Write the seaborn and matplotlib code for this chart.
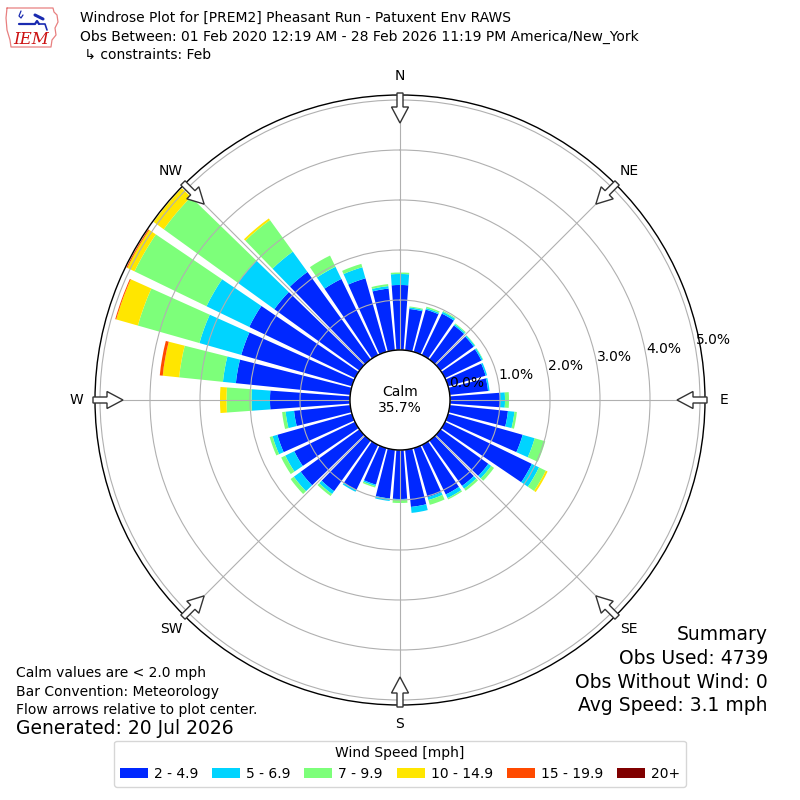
import numpy as np
import matplotlib
matplotlib.use("Agg")
import matplotlib.pyplot as plt
import matplotlib.patches as mpatches
import matplotlib.transforms as mtransforms
import seaborn as sns

sns.set_style("white")
plt.rcParams['font.family'] = ['DejaVu Sans']
plt.rcParams['text.color'] = 'black'

# wind direction bins (deg, meteorological convention)
dirs = list(range(0, 360, 10))

# percent of obs per direction and speed bin
spd_2_5 = [1.30, 0.83, 0.88, 0.92, 0.84, 0.82, 0.81, 0.78, 0.77, 1.00,
           1.17, 1.55, 1.93, 1.18, 1.12, 1.10, 1.02, 1.15, 0.98, 0.98,
           0.76, 1.00, 1.25, 1.45, 1.35, 1.55, 1.13, 1.60, 2.30, 2.30,
           2.35, 2.10, 2.16, 1.69, 1.53, 1.24]
spd_5_7 = [0.22, 0.03, 0.03, 0.04, 0.03, 0.03, 0.03, 0.03, 0.03, 0.10,
           0.13, 0.25, 0.16, 0.07, 0.07, 0.08, 0.06, 0.12, 0.02, 0.05,
           0.03, 0.04, 0.07, 0.17, 0.20, 0.10, 0.17, 0.37, 0.26, 0.87,
           0.95, 0.90, 0.50, 0.27, 0.23, 0.05]
spd_7_10 = [0.03, 0.02, 0.03, 0.02, 0.02, 0.01, 0.01, 0.00, 0.00, 0.08,
            0.05, 0.22, 0.15, 0.07, 0.05, 0.03, 0.10, 0.00, 0.06, 0.00,
            0.03, 0.00, 0.05, 0.08, 0.09, 0.06, 0.07, 0.50, 0.88, 1.28,
            1.60, 1.83, 0.78, 0.25, 0.07, 0.04]
spd_10_15 = [0, 0, 0, 0, 0, 0, 0, 0, 0, 0,
             0, 0, 0.04, 0, 0, 0, 0, 0, 0, 0,
             0, 0, 0, 0, 0, 0, 0, 0.13, 0.33, 0.45,
             0.16, 0.25, 0.04, 0, 0, 0]
spd_15_20 = [0, 0, 0, 0, 0, 0, 0, 0, 0, 0,
             0, 0, 0, 0, 0, 0, 0, 0, 0, 0,
             0, 0, 0, 0, 0, 0, 0, 0, 0.06, 0.02,
             0.02, 0, 0, 0, 0, 0]
spd_20p = [0] * 36

speed_labels = ["2 - 4.9", "5 - 6.9", "7 - 9.9", "10 - 14.9", "15 - 19.9", "20+"]
speed_colors = sns.color_palette(["#0028ff", "#00d4ff", "#7dff7a",
                                  "#ffe600", "#ff4a00", "#800000"])

compass = ["N", "NE", "E", "SE", "S", "SW", "W", "NW"]
ring_vals = [0, 1, 2, 3, 4, 5]
calm_pct = 35.7
rmax = 5.1

fig = plt.figure(figsize=(8, 8), dpi=100)
ax = fig.add_axes([95 / 800, 95 / 800, 610 / 800, 610 / 800], projection='polar')
ax.set_theta_zero_location('N')
ax.set_theta_direction(-1)
ax.set_rorigin(-1.0)
ax.set_ylim(0, rmax)

theta = np.deg2rad(dirs)
width = np.deg2rad(10) * 0.83
bottom = np.zeros(len(dirs))
for vals, col, lab in zip([spd_2_5, spd_5_7, spd_7_10, spd_10_15, spd_15_20, spd_20p],
                          speed_colors, speed_labels):
    vals = np.array(vals)
    ax.bar(theta, vals, width=width, bottom=bottom, color=col, label=lab,
           linewidth=0, zorder=2)
    bottom += vals

# grid
ax.set_xticks(np.deg2rad(np.arange(0, 360, 45)))
ax.set_xticklabels([])
ax.set_yticks(ring_vals)
ax.set_yticklabels([])
ax.grid(True, color='#b0b0b0', lw=0.8, zorder=3)
ax.set_axisbelow(False)
ax.spines['polar'].set_color('black')
ax.spines['polar'].set_linewidth(1.0)
if 'inner' in ax.spines:
    ax.spines['inner'].set_visible(False)

# calm circle
calm = mpatches.Circle((0.5, 0.5), 50 / 610, transform=ax.transAxes, fc='white',
                       ec='black', lw=1.0, zorder=4, clip_on=False)
ax.add_patch(calm)
ax.text(0.5, 0.5, f"Calm\n{calm_pct}%", transform=ax.transAxes, ha='center',
        va='center', fontsize=10, zorder=6)

# ring labels
lab_tr = mtransforms.offset_copy(ax.transData, fig=fig, x=0, y=8, units='dots')
for rv in ring_vals:
    ax.text(np.deg2rad(80), rv, f"{rv:.1f}%", transform=lab_tr, ha='left',
            va='center', fontsize=10, zorder=6)

# compass labels and flow arrows
for i, lab in enumerate(compass):
    ang = np.deg2rad(i * 45)
    ax.text(ang, 324 / 50 - 1, lab, ha='center', va='center', fontsize=10,
            clip_on=False)
    ux, uy = np.sin(ang), np.cos(ang)
    arr = mpatches.FancyArrow(0.5 + ux * 307 / 610, 0.5 + uy * 307 / 610,
                              -ux * 30 / 610, -uy * 30 / 610,
                              width=6 / 610, head_width=17 / 610,
                              head_length=16 / 610, length_includes_head=True,
                              transform=ax.transAxes, fc='white', ec='#333333',
                              lw=1.0, clip_on=False, zorder=7)
    ax.add_patch(arr)

# header
fig.text(80 / 800, 1 - 18 / 800, "Windrose Plot for [PREM2] Pheasant Run - Patuxent Env RAWS",
         fontsize=10, va='center')
fig.text(80 / 800, 1 - 37 / 800,
         "Obs Between: 01 Feb 2020 12:19 AM - 28 Feb 2026 11:19 PM America/New_York",
         fontsize=10, va='center')
fig.text(80 / 800, 1 - 55 / 800, " \u21b3 constraints: Feb", fontsize=10, va='center')

# logo
lax = fig.add_axes([5 / 800, 1 - 52 / 800, 56 / 800, 48 / 800])
lax.set_xlim(0, 56)
lax.set_ylim(0, 48)
lax.axis('off')
iowa_x = [2, 48, 49, 52, 53, 50, 51, 47, 46, 6, 5, 2, 1, 2]
iowa_y = [44, 44, 40, 37, 30, 24, 17, 12, 5, 5, 12, 22, 34, 44]
lax.plot(iowa_x, iowa_y, color='#e88080', lw=0.9)
lax.plot([14, 30, 32, 34], [28, 28, 31, 28], color='#1a2bb0', lw=1.6)
lax.plot([34, 40, 42], [28, 28, 22], color='#1a2bb0', lw=1.2)
lax.plot([30, 38], [37, 33], color='#1a2bb0', lw=2.2)
lax.plot([16, 14, 16, 18], [41, 36, 34, 37], color='#1a2bb0', lw=0.9)
lax.text(26, 12, "IEM", color='#cc1111', fontsize=12, family='DejaVu Serif',
         style='italic', ha='center', va='center')

# footer notes
fig.text(16 / 800, 1 - 673 / 800, "Calm values are < 2.0 mph", fontsize=10, va='center')
fig.text(16 / 800, 1 - 692 / 800, "Bar Convention: Meteorology", fontsize=10, va='center')
fig.text(16 / 800, 1 - 710 / 800, "Flow arrows relative to plot center.", fontsize=10,
         va='center')
fig.text(16 / 800, 1 - 729 / 800, "Generated: 20 Jul 2026", fontsize=13.5, va='center')

summary = ["Summary", "Obs Used: 4739", "Obs Without Wind: 0", "Avg Speed: 3.1 mph"]
for k, line in enumerate(summary):
    fig.text(768 / 800, 1 - (635 + 23.5 * k) / 800, line, fontsize=13.5,
             ha='right', va='center')

handles, labels = ax.get_legend_handles_labels()
fig.legend(handles, labels, loc='lower center', bbox_to_anchor=(0.5, 0.008),
           ncol=6, title="Wind Speed [mph]", fontsize=10, title_fontsize=10,
           columnspacing=1.0, handletextpad=0.45)

fig.savefig("out.png", dpi=100)
